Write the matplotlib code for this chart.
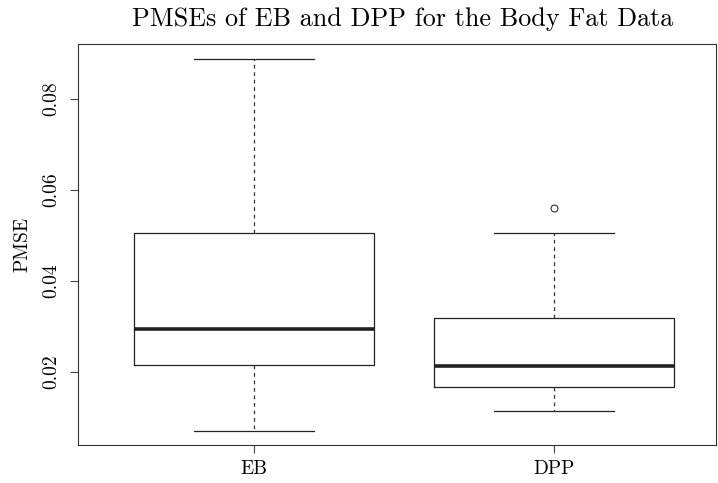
import matplotlib
matplotlib.use('Agg')
import matplotlib.pyplot as plt

# Box statistics (PMSE values)
groups = ['EB', 'DPP']
whisker_low = [0.00703, 0.01143]
q1 = [0.02154, 0.01670]
median = [0.02945, 0.02132]
q3 = [0.05050, 0.03190]
whisker_high = [0.08880, 0.05050]
outliers = [[], [0.05604]]

plt.rcParams['font.family'] = ['cmr10', 'DejaVu Serif']
plt.rcParams['axes.formatter.use_mathtext'] = True

stats = []
for i, g in enumerate(groups):
    stats.append({'label': g, 'whislo': whisker_low[i], 'q1': q1[i], 'med': median[i],
                  'q3': q3[i], 'whishi': whisker_high[i], 'fliers': outliers[i]})

fig = plt.figure(figsize=(7.18, 4.83), dpi=100)
ax = fig.add_axes([78 / 718, 38 / 483, 638 / 718, 401 / 483])

ax.bxp(stats, positions=[1, 2], widths=0.8, showfliers=True,
       boxprops=dict(color='#222222', linewidth=0.9),
       medianprops=dict(color='#222222', linewidth=2.6),
       whiskerprops=dict(color='#333333', linewidth=0.9, linestyle=(0, (3, 3))),
       capprops=dict(color='#222222', linewidth=0.9),
       capwidths=0.4,
       flierprops=dict(marker='o', markerfacecolor='none', markeredgecolor='#333333',
                       markersize=5, markeredgewidth=0.8))

ax.set_xlim(0.413, 2.54)
ax.set_ylim(0.00396, 0.0921)
ax.set_yticks([0.02, 0.04, 0.06, 0.08])
ax.set_yticklabels(['0.02', '0.04', '0.06', '0.08'], rotation=90, va='center')
ax.set_xticks([1, 2])
ax.set_xticklabels(groups)
ax.tick_params(labelsize=14, length=6, width=0.8, color='#444444')
ax.tick_params(axis='y', pad=7)
ax.tick_params(axis='x', pad=5)
for s in ax.spines.values():
    s.set_linewidth(0.8)
    s.set_color('#333333')

ax.set_ylabel('PMSE', fontsize=14, labelpad=8)
ax.set_title('PMSEs of EB and DPP for the Body Fat Data', fontsize=18.8, pad=13,
             x=(403 - 78) / 638)

fig.savefig('out.png', dpi=100)
